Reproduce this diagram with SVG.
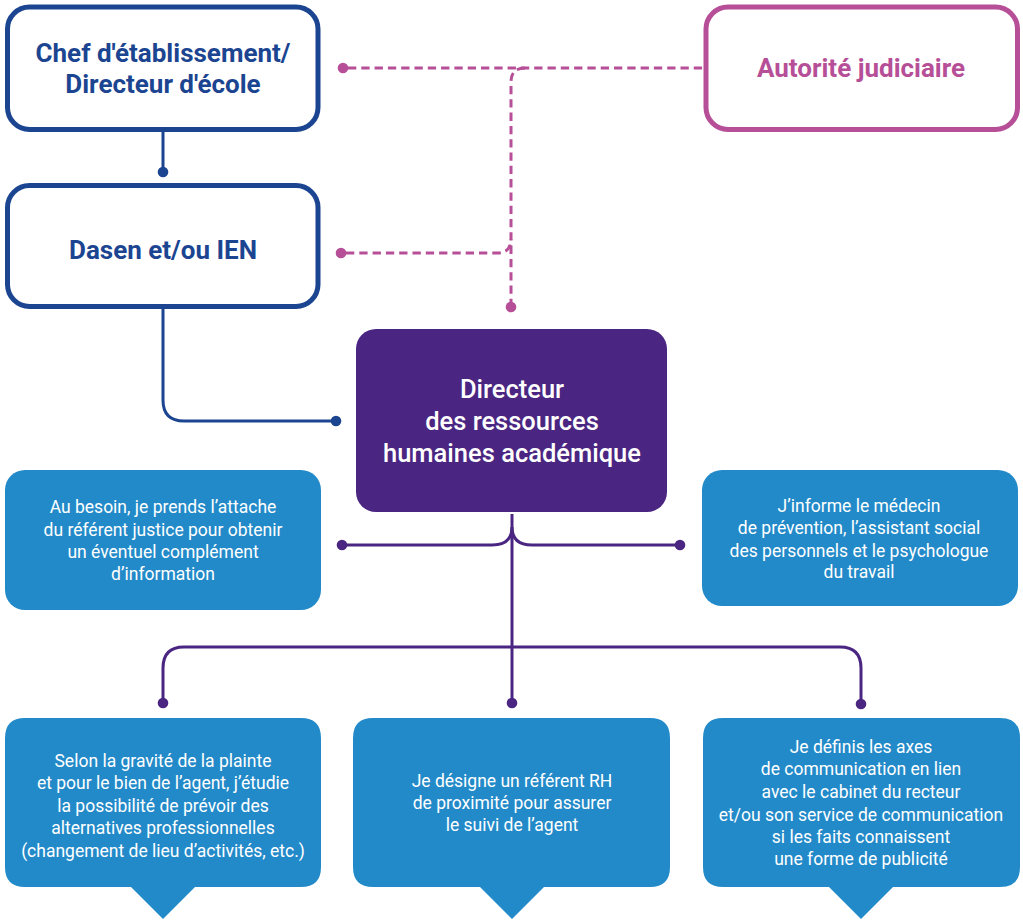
<svg xmlns="http://www.w3.org/2000/svg" width="1023" height="920" viewBox="0 0 1023 920">
<style>
.navybox{fill:#fff;stroke:#1c4591;stroke-width:5}
.pinkbox{fill:#fff;stroke:#b64f97;stroke-width:5}
.title{font-family:Roboto,"Liberation Sans",sans-serif;font-weight:bold;font-size:26px;text-anchor:middle}
.navytxt{fill:#1c4591}
.pinktxt{fill:#b64f97}
.main{fill:#4a2682}
.maintxt{font-family:Roboto,"Liberation Sans",sans-serif;font-weight:500;font-size:25.5px;fill:#fff;text-anchor:middle}
.blue{fill:#238ac9}
.body{font-family:Roboto,"Liberation Sans",sans-serif;font-size:17.5px;fill:#fff;text-anchor:middle}
.dash{fill:none;stroke:#b64f97;stroke-width:3;stroke-dasharray:8.3 5}
.navyline{fill:none;stroke:#1c4591;stroke-width:3}
.purpline{fill:none;stroke:#4a2682;stroke-width:3}
</style>
<g id="connectors">
<path class="navyline" d="M163 131 V172"/>
<circle cx="163" cy="172" r="5.3" fill="#1c4591"/>
<path class="navyline" d="M163 309 V400 Q163 421 184 421 H336"/>
<circle cx="336" cy="421" r="5.3" fill="#1c4591"/>
<path class="dash" d="M348 68 H703"/>
<path class="dash" d="M525 68 Q511 68 511 82 V307"/>
<path class="dash" d="M346 253 H497 Q511 253 511 239"/>
<circle cx="343" cy="68" r="5.3" fill="#b64f97"/>
<circle cx="341" cy="253" r="5.3" fill="#b64f97"/>
<circle cx="511" cy="307" r="5.3" fill="#b64f97"/>
<path class="purpline" d="M512 514 V703"/>
<path class="purpline" d="M342 545 H492 Q512 545 512 527 Q512 545 532 545 H680"/>
<path class="purpline" d="M163 703 V668 Q163 647 184 647 H840 Q861 647 861 668 V704"/>
<circle cx="342" cy="545" r="5.3" fill="#4a2682"/>
<circle cx="680" cy="545" r="5.3" fill="#4a2682"/>
<circle cx="163" cy="703" r="5.3" fill="#4a2682"/>
<circle cx="512" cy="703" r="5.3" fill="#4a2682"/>
<circle cx="861" cy="704" r="5.3" fill="#4a2682"/>
</g>
<g id="chef">
<rect class="navybox" x="7.5" y="7" width="310.5" height="122.5" rx="22"/>
<text class="title navytxt" x="163" y="62">Chef d'établissement/</text>
<text class="title navytxt" x="163" y="93">Directeur d'école</text>
</g>
<g id="dasen">
<rect class="navybox" x="7.5" y="185.5" width="310.5" height="121" rx="22"/>
<text class="title navytxt" x="163" y="259">Dasen et/ou IEN</text>
</g>
<g id="autorite">
<rect class="pinkbox" x="706" y="7" width="311.5" height="122.5" rx="22"/>
<text class="title pinktxt" x="861" y="77">Autorité judiciaire</text>
</g>
<g id="drh">
<rect class="main" x="356" y="329" width="311" height="183" rx="20"/>
<text class="maintxt" x="512" y="398">Directeur</text>
<text class="maintxt" x="512" y="430">des ressources</text>
<text class="maintxt" x="512" y="462">humaines académique</text>
</g>
<g id="referent-justice">
<rect class="blue" x="5" y="470" width="316" height="140" rx="20"/>
<text class="body" x="163" y="513">Au besoin, je prends l’attache</text>
<text class="body" x="163" y="536">du référent justice pour obtenir</text>
<text class="body" x="163" y="558">un éventuel complément</text>
<text class="body" x="163" y="580">d’information</text>
</g>
<g id="medecin">
<rect class="blue" x="702" y="470" width="316" height="136" rx="20"/>
<text class="body" x="859" y="512">J’informe le médecin</text>
<text class="body" x="859" y="534">de prévention, l’assistant social</text>
<text class="body" x="859" y="557">des personnels et le psychologue</text>
<text class="body" x="859" y="578">du travail</text>
</g>
<g id="alternatives">
<path class="blue" d="M25 718 H301 Q321 718 321 738 V867 Q321 887 301 887 H195 L163 919 L131 887 H25 Q5 887 5 867 V738 Q5 718 25 718 Z"/>
<text class="body" x="163" y="767">Selon la gravité de la plainte</text>
<text class="body" x="163" y="789">et pour le bien de l’agent, j’étudie</text>
<text class="body" x="163" y="812">la possibilité de prévoir des</text>
<text class="body" x="163" y="834">alternatives professionnelles</text>
<text class="body" x="163" y="857">(changement de lieu d’activités, etc.)</text>
</g>
<g id="referent-rh">
<path class="blue" d="M373 718 H650 Q670 718 670 738 V867 Q670 887 650 887 H544 L512 919 L480 887 H373 Q353 887 353 867 V738 Q353 718 373 718 Z"/>
<text class="body" x="512" y="787">Je désigne un référent RH</text>
<text class="body" x="512" y="809">de proximité pour assurer</text>
<text class="body" x="512" y="831">le suivi de l’agent</text>
</g>
<g id="communication">
<path class="blue" d="M723 718 H1000 Q1020 718 1020 738 V867 Q1020 887 1000 887 H893 L861 919 L829 887 H723 Q703 887 703 867 V738 Q703 718 723 718 Z"/>
<text class="body" x="861" y="753">Je définis les axes</text>
<text class="body" x="861" y="775">de communication en lien</text>
<text class="body" x="861" y="798">avec le cabinet du recteur</text>
<text class="body" x="861" y="821">et/ou son service de communication</text>
<text class="body" x="861" y="843">si les faits connaissent</text>
<text class="body" x="861" y="865">une forme de publicité</text>
</g>
</svg>
